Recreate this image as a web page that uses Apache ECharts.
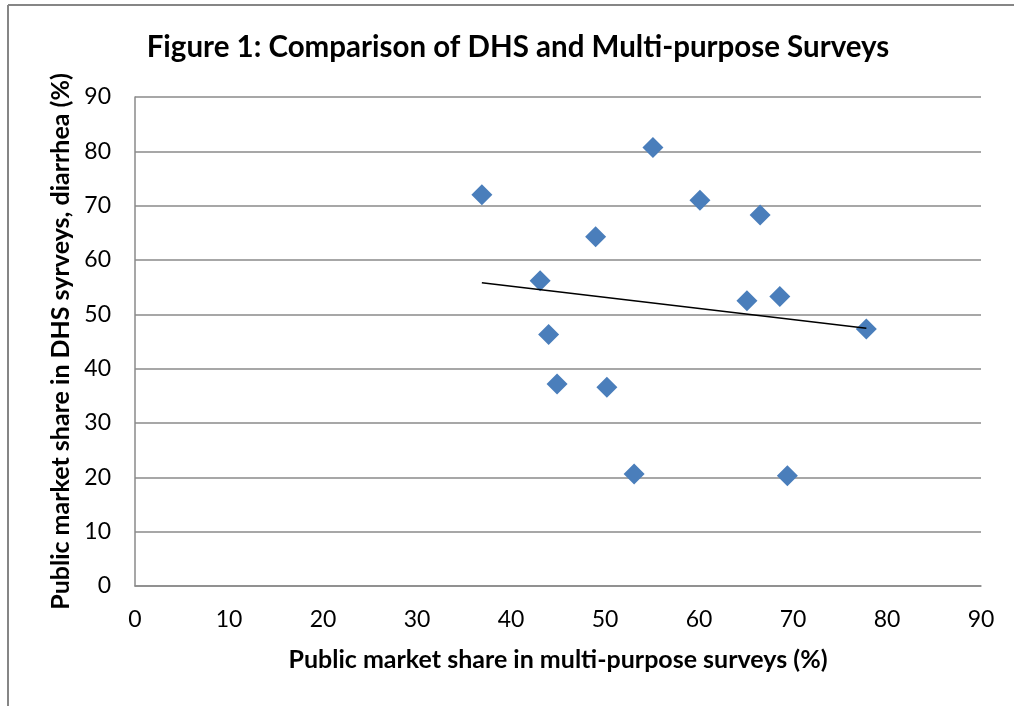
<!DOCTYPE html>
<html>
<head>
<meta charset="utf-8">
<script src="https://cdn.jsdelivr.net/npm/echarts@6/dist/echarts.min.js"></script>
<style>
  html, body { margin: 0; padding: 0; background: #fff; }
  #chart { width: 1014px; height: 706px; }
</style>
</head>
<body>
<div id="chart"></div>
<script>
// Public market share (%) per country: multi-purpose survey vs DHS (diarrhea)
const multiPurposeShare = [36.9, 55.1, 60.1, 66.5, 49.0, 43.1, 65.1, 68.6, 44.0, 44.9, 50.2, 53.1, 69.4, 77.8];
const dhsShare          = [72.0, 80.7, 71.0, 68.3, 64.3, 56.2, 52.5, 53.3, 46.3, 37.2, 36.6, 20.6, 20.3, 47.3];

const titleText = 'Figure 1: Comparison of DHS and Multi-purpose Surveys';
const xAxisTitle = 'Public market share in multi-purpose surveys (%)';
const yAxisTitle = 'Public market share in DHS syrveys, diarrhea (%)';

// Least-squares linear trend over the observed points
function linearTrend(xs, ys) {
  const n = xs.length;
  const mx = xs.reduce((a, b) => a + b, 0) / n;
  const my = ys.reduce((a, b) => a + b, 0) / n;
  let sxy = 0, sxx = 0;
  for (let i = 0; i < n; i++) {
    sxy += (xs[i] - mx) * (ys[i] - my);
    sxx += (xs[i] - mx) * (xs[i] - mx);
  }
  const slope = sxy / sxx;
  const intercept = my - slope * mx;
  const x0 = Math.min(...xs), x1 = Math.max(...xs);
  return [[x0, intercept + slope * x0], [x1, intercept + slope * x1]];
}

const points = multiPurposeShare.map((x, i) => [x, dhsShare[i]]);
const trend = linearTrend(multiPurposeShare, dhsShare);

const FONT = 'Lato, "Open Sans", sans-serif';
const GRID_COLOR = '#8a8a8a';

const chart = echarts.init(document.getElementById('chart'), null, { renderer: 'canvas' });
chart.setOption({
  animation: false,
  backgroundColor: '#ffffff',
  graphic: [
    // chart area frame (top and left edges visible)
    { type: 'line', shape: { x1: 8, y1: 5, x2: 1014, y2: 5 }, style: { stroke: '#868686', lineWidth: 2 } },
    { type: 'line', shape: { x1: 8, y1: 5, x2: 8, y2: 706 }, style: { stroke: '#868686', lineWidth: 2 } }
  ],
  title: {
    text: titleText,
    left: 513,
    textAlign: 'center',
    top: 27,
    textStyle: { fontFamily: FONT, fontSize: 29.5, fontWeight: 'bold', color: '#000' }
  },
  grid: { left: 135, right: 33, top: 97, bottom: 120 },
  xAxis: {
    type: 'value',
    min: 0, max: 90, interval: 10,
    name: xAxisTitle,
    nameLocation: 'middle',
    nameGap: 61,
    nameTextStyle: { fontFamily: FONT, fontSize: 25, fontWeight: 'bold', color: '#000' },
    axisLine: { show: true, lineStyle: { color: GRID_COLOR, width: 1.5 } },
    axisTick: { show: false },
    axisLabel: { fontFamily: FONT, fontSize: 23, color: '#000', margin: 22 },
    splitLine: { show: false }
  },
  yAxis: {
    type: 'value',
    min: 0, max: 90, interval: 10,
    name: yAxisTitle,
    nameLocation: 'middle',
    nameGap: 55,
    nameRotate: 90,
    nameTextStyle: { fontFamily: FONT, fontSize: 25, fontWeight: 'bold', color: '#000' },
    axisLine: { show: true, lineStyle: { color: GRID_COLOR, width: 1.5 } },
    axisTick: { show: false },
    axisLabel: { fontFamily: FONT, fontSize: 23, color: '#000', margin: 24 },
    splitLine: { show: true, lineStyle: { color: GRID_COLOR, width: 1.5 } }
  },
  series: [
    {
      type: 'scatter',
      data: points,
      symbol: 'diamond',
      symbolSize: [21, 21],
      itemStyle: { color: '#4a7ebb', opacity: 1 },
      z: 3
    },
    {
      type: 'line',
      data: trend,
      symbol: 'none',
      lineStyle: { color: '#000', width: 1.5 },
      z: 4
    }
  ]
});
</script>
</body>
</html>
